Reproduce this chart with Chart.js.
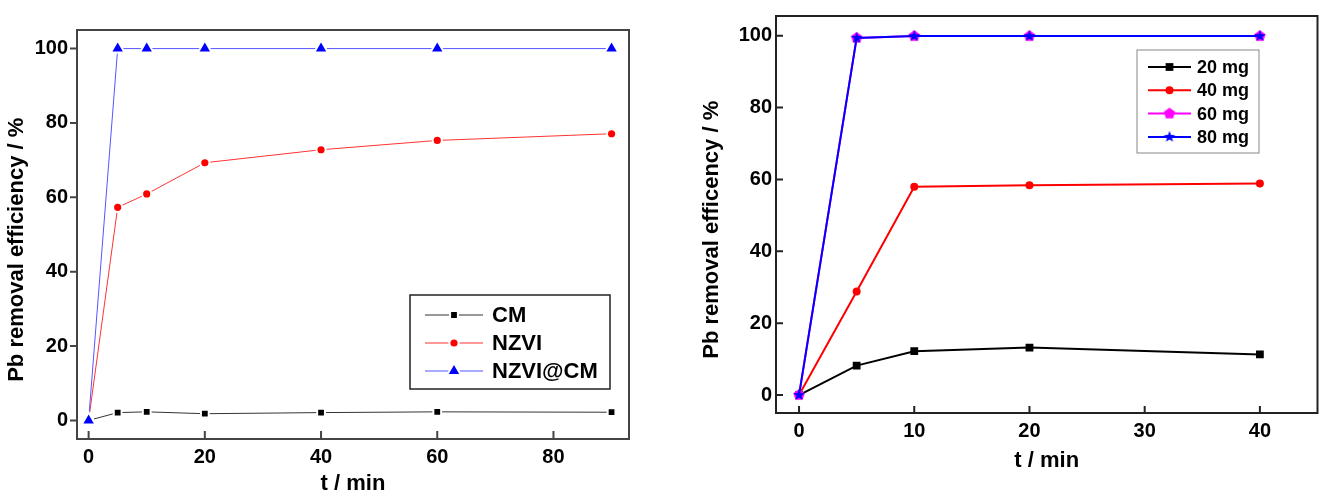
<!DOCTYPE html>
<html>
<head>
<meta charset="utf-8">
<script src="https://cdn.jsdelivr.net/npm/chart.js@4.4.1/dist/chart.umd.min.js"></script>
<style>
  html, body { margin: 0; padding: 0; background: #fff; }
  body { width: 1323px; height: 495px; position: relative; overflow: hidden; }
  #left { position: absolute; left: 0; top: 0; }
  #right { position: absolute; left: 680px; top: 0; }
</style>
</head>
<body>
<canvas id="left" width="660" height="495"></canvas>
<canvas id="right" width="643" height="495"></canvas>
<script>
// left panel: CM vs NZVI vs NZVI@CM
const timeA = [0, 5, 10, 20, 40, 60, 90];
const cm = [0, 2.1, 2.3, 1.8, 2.1, 2.3, 2.2];
const nzvi = [0, 57.3, 60.9, 69.3, 72.8, 75.3, 77.1];
const nzviCm = [0, 100, 100, 100, 100, 100, 100];
const xTicksA = [0, 20, 40, 60, 80];

// right panel: dosage
const timeB = [0, 5, 10, 20, 40];
const dose20 = [0, 8.2, 12.2, 13.2, 11.3];
const dose40 = [0, 28.8, 58.0, 58.4, 58.9];
const dose60 = [0, 99.4, 99.9, 99.9, 99.9];
const dose80 = [0, 99.4, 99.9, 99.9, 99.9];
const xTicksB = [0, 10, 20, 30, 40];

const yTicks = [0, 20, 40, 60, 80, 100];

const FONT = "'Liberation Sans', Arial, sans-serif";
Chart.defaults.font.family = FONT;
Chart.defaults.font.weight = 'bold';
Chart.defaults.color = '#000';

const pts = (xs, ys) => xs.map((x, i) => ({ x, y: ys[i] }));

// filled polygon / star markers (Origin style)
function shape(n, r, inner, color) {
  const c = document.createElement('canvas');
  const s = 14;
  c.width = s; c.height = s;
  const g = c.getContext('2d');
  g.fillStyle = color;
  g.beginPath();
  const k = inner ? n * 2 : n;
  for (let i = 0; i < k; i++) {
    const rr = inner && i % 2 ? inner : r;
    const a = -Math.PI / 2 + i * Math.PI * 2 / k;
    g.lineTo(s / 2 + rr * Math.cos(a), s / 2 + rr * Math.sin(a));
  }
  g.closePath();
  g.fill();
  return c;
}
const pentagon = shape(5, 6, 0, '#ff00ff');
const star = shape(5, 6, 2.6, '#0000ff');

function axis(o) {
  return {
    type: 'linear',
    min: o.min, max: o.max,
    grid: { display: false, drawTicks: false },
    border: { display: false },
    ticks: { padding: o.pad, color: '#000', font: { size: 20, weight: 'bold' } },
    title: {
      display: true, text: o.title, color: '#000',
      font: { size: 22, weight: 'bold', lineHeight: 1 },
      padding: o.titlePad
    },
    afterFit: s => { if (s.isHorizontal()) s.height = o.size; else s.width = o.size; },
    afterBuildTicks: s => { s.ticks = o.ticks.map(v => ({ value: v })); }
  };
}

// box frame + tick marks
const frameTicks = {
  id: 'frameTicks',
  afterDatasetsDraw(chart, args, o) {
    const { ctx, chartArea: a, scales } = chart;
    ctx.save();
    ctx.strokeStyle = o.color;
    ctx.lineWidth = 2;
    ctx.beginPath();
    scales.x.ticks.forEach(t => {
      const px = scales.x.getPixelForValue(t.value);
      ctx.moveTo(px, a.bottom);
      ctx.lineTo(px, a.bottom - o.xIn);
    });
    scales.y.ticks.forEach(t => {
      const py = scales.y.getPixelForValue(t.value);
      ctx.moveTo(a.left, py);
      ctx.lineTo(a.left + o.yIn, py);
    });
    ctx.stroke();
    ctx.strokeRect(a.left, a.top, a.right - a.left, a.bottom - a.top);
    ctx.restore();
  }
};

// legend box with line + marker samples
const boxLegend = {
  id: 'boxLegend',
  afterDraw(chart, args, o) {
    const ctx = chart.ctx;
    ctx.save();
    ctx.fillStyle = '#fff';
    ctx.fillRect(o.x, o.y, o.w, o.h);
    ctx.strokeStyle = o.frame;
    ctx.lineWidth = o.frameWidth;
    ctx.strokeRect(o.x, o.y, o.w, o.h);
    chart.data.datasets.forEach((ds, i) => {
      const y = o.y + o.first + i * o.step;
      const x0 = o.x + o.lineStart;
      ctx.strokeStyle = ds.borderColor;
      ctx.lineWidth = ds.borderWidth;
      ctx.beginPath();
      ctx.moveTo(x0, y);
      ctx.lineTo(x0 + o.lineLen, y);
      ctx.stroke();
      ctx.fillStyle = ds.pointBackgroundColor;
      ctx.strokeStyle = ds.pointBorderColor;
      ctx.lineWidth = ds.pointBorderWidth;
      Chart.helpers.drawPoint(ctx, {
        pointStyle: ds.pointStyle, radius: ds.pointRadius,
        borderWidth: ds.pointBorderWidth, rotation: 0
      }, x0 + o.lineLen / 2, y);
      ctx.fillStyle = '#000';
      ctx.font = o.font;
      ctx.textAlign = 'left';
      ctx.textBaseline = 'middle';
      ctx.fillText(ds.label, o.x + o.textStart, y + 1);
    });
    ctx.restore();
  }
};

new Chart(document.getElementById('left'), {
  type: 'line',
  data: {
    datasets: [
      { label: 'CM', data: pts(timeA, cm), borderColor: '#333', borderWidth: 1,
        pointStyle: 'rect', pointRadius: 5.5, pointBackgroundColor: '#000',
        pointBorderColor: '#fff', pointBorderWidth: 2, order: 3 },
      { label: 'NZVI', data: pts(timeA, nzvi), borderColor: '#ff3333', borderWidth: 1,
        pointStyle: 'circle', pointRadius: 4.6, pointBackgroundColor: '#ff0000',
        pointBorderColor: '#fff', pointBorderWidth: 2, order: 2 },
      { label: 'NZVI@CM', data: pts(timeA, nzviCm), borderColor: '#5555ff', borderWidth: 1,
        pointStyle: 'triangle', pointRadius: 8, pointBackgroundColor: '#0000ff',
        pointBorderColor: '#fff', pointBorderWidth: 2, order: 1 }
    ]
  },
  options: {
    responsive: false,
    animation: false,
    events: [],
    layout: { padding: { left: 0, top: 30, right: 31, bottom: 0 } },
    elements: { line: { tension: 0 } },
    scales: {
      x: axis({ min: -2, max: 93, ticks: xTicksA, pad: 6, size: 56,
        title: 't / min', titlePad: { top: 0, bottom: 0 } }),
      y: axis({ min: -5, max: 105, ticks: yTicks, pad: 9, size: 77,
        title: 'Pb removal efficiency / %     ', titlePad: { top: 6, bottom: 0 } })
    },
    plugins: {
      legend: { display: false },
      tooltip: { enabled: false },
      frameTicks: { color: '#444', xIn: 8, yIn: -7 },
      boxLegend: { x: 410, y: 295, w: 200, h: 94, first: 20, step: 28,
        lineStart: 15, lineLen: 58, textStart: 82,
        font: 'bold 22px ' + FONT, frame: '#222', frameWidth: 1.5 }
    }
  },
  plugins: [frameTicks, boxLegend]
});

new Chart(document.getElementById('right'), {
  type: 'line',
  data: {
    datasets: [
      { label: '20 mg', data: pts(timeB, dose20), borderColor: '#000', borderWidth: 2,
        pointStyle: 'rect', pointRadius: 5.5, pointBackgroundColor: '#000',
        pointBorderColor: '#000', pointBorderWidth: 0, order: 4 },
      { label: '40 mg', data: pts(timeB, dose40), borderColor: '#ff0000', borderWidth: 2,
        pointStyle: 'circle', pointRadius: 4, pointBackgroundColor: '#ff0000',
        pointBorderColor: '#ff0000', pointBorderWidth: 0, order: 3 },
      { label: '60 mg', data: pts(timeB, dose60), borderColor: '#ff00ff', borderWidth: 2,
        pointStyle: pentagon, pointRadius: 5, pointBackgroundColor: '#ff00ff',
        pointBorderColor: '#ff00ff', pointBorderWidth: 0, order: 2 },
      { label: '80 mg', data: pts(timeB, dose80), borderColor: '#0000ff', borderWidth: 2,
        pointStyle: star, pointRadius: 5, pointBackgroundColor: '#0000ff',
        pointBorderColor: '#0000ff', pointBorderWidth: 0, order: 1 }
    ]
  },
  options: {
    responsive: false,
    animation: false,
    events: [],
    layout: { padding: { left: 0, top: 7, right: 2, bottom: 0 } },
    elements: { line: { tension: 0 } },
    scales: {
      x: axis({ min: -2, max: 45, ticks: xTicksB, pad: 6, size: 82,
        title: 't / min', titlePad: { top: 0, bottom: 23 } }),
      y: axis({ min: -5, max: 105.5, ticks: yTicks, pad: 4, size: 96,
        title: 'Pb removal efficency / %     ', titlePad: { top: 21, bottom: 0 } })
    },
    plugins: {
      legend: { display: false },
      tooltip: { enabled: false },
      frameTicks: { color: '#222', xIn: 7, yIn: 7 },
      boxLegend: { x: 457, y: 50, w: 122, h: 103, first: 17, step: 23.3,
        lineStart: 11, lineLen: 43, textStart: 60,
        font: 'bold 18px ' + FONT, frame: '#888', frameWidth: 1 }
    }
  },
  plugins: [frameTicks, boxLegend]
});
</script>
</body>
</html>
